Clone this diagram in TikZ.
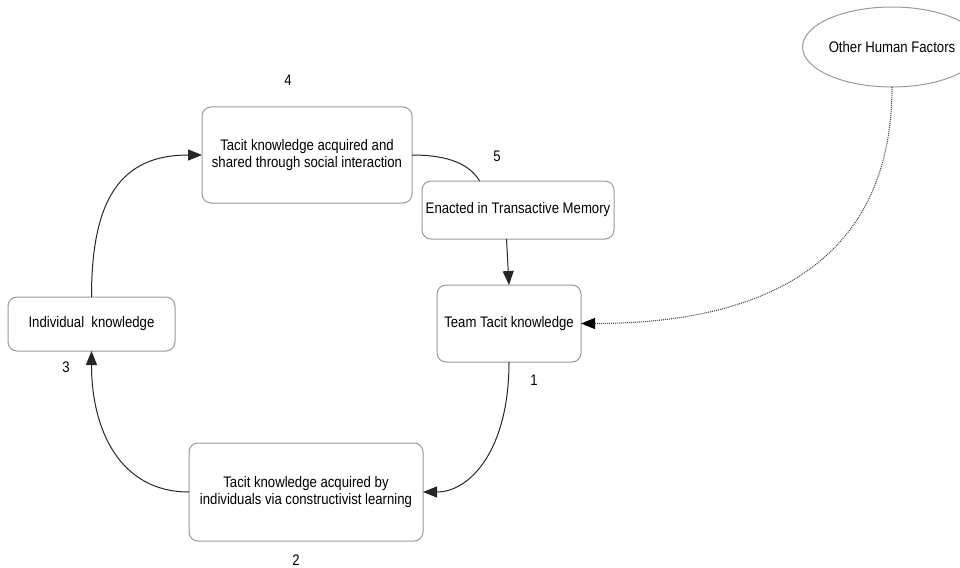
\documentclass[tikz,border=0pt]{standalone}
\usepackage{fontspec}
\setmainfont{Liberation Sans}[FakeStretch=0.86]
\usetikzlibrary{arrows.meta,calc,shapes.geometric}
\tikzset{
  boxnode/.style={draw=black!40, line width=1pt, rounded corners=9pt, fill=white,
    inner sep=0pt, outer sep=0pt, align=center,
    font=\fontsize{15.3}{17.5}\selectfont},
  ovalnode/.style={ellipse, draw=black!40, line width=1pt, inner sep=0pt, outer sep=0pt,
    minimum width=138pt, minimum height=80pt, font=\fontsize{15.3}{17.5}\selectfont},
  numlabel/.style={inner sep=0pt, font=\fontsize{15.3}{17.5}\selectfont},
  conn/.style={draw=black!85, line width=1pt, -{Triangle[length=14pt,width=11pt]}},
  plainconn/.style={draw=black!85, line width=1pt},
  dotconn/.style={draw=black!70, line width=1.1pt, dash pattern=on 1pt off 1pt,
    -{Triangle[length=14pt,width=11pt,color=black]}}
}
\begin{document}
\begin{tikzpicture}[x=1pt,y=-1pt]
\useasboundingbox (0,0) rectangle (960,567);
\node[boxnode, minimum width=210pt, minimum height=96pt] (social) at (307,155)
  {Tacit knowledge acquired and\\shared through social interaction};
\node[boxnode, minimum width=192pt, minimum height=58pt] (memory) at (518,210)
  {Enacted in Transactive Memory};
\node[boxnode, minimum width=144pt, minimum height=77pt] (team) at (509,323.5)
  {Team Tacit knowledge};
\node[boxnode, minimum width=167pt, minimum height=54pt] (indiv) at (91.5,324)
  {Individual\ \ knowledge};
\node[boxnode, minimum width=234pt, minimum height=98pt] (constr) at (306,492)
  {Tacit knowledge acquired by\\individuals via constructivist learning};
\node[ovalnode] (other) at (892,47) {Other Human Factors};

\node[numlabel] (n4) at (288,80) {4};
\node[numlabel] (n5) at (497,156) {5};
\node[numlabel] (n1) at (534,380) {1};
\node[numlabel] (n2) at (296,560) {2};
\node[numlabel] (n3) at (66,367) {3};

\coordinate (memtop) at ($(memory.north west)!0.3!(memory.north east)$);
\coordinate (membot) at ($(memory.south west)!0.44!(memory.south east)$);

\draw[conn] (indiv.north) .. controls (91.5,200) and (120,155) .. (social.west);
\draw[plainconn] (social.east) .. controls (450,155) and (470,165) .. (memtop);
\draw[conn] (membot) -- (team.north);
\draw[conn] (team.south) .. controls (509,450) and (470,492) .. (constr.east);
\draw[conn] (constr.west) .. controls (120,492) and (91.5,430) .. (indiv.south);
\draw[dotconn] (other.south) .. controls (892,235) and (800,323.5) .. (team.east);
\end{tikzpicture}
\end{document}
